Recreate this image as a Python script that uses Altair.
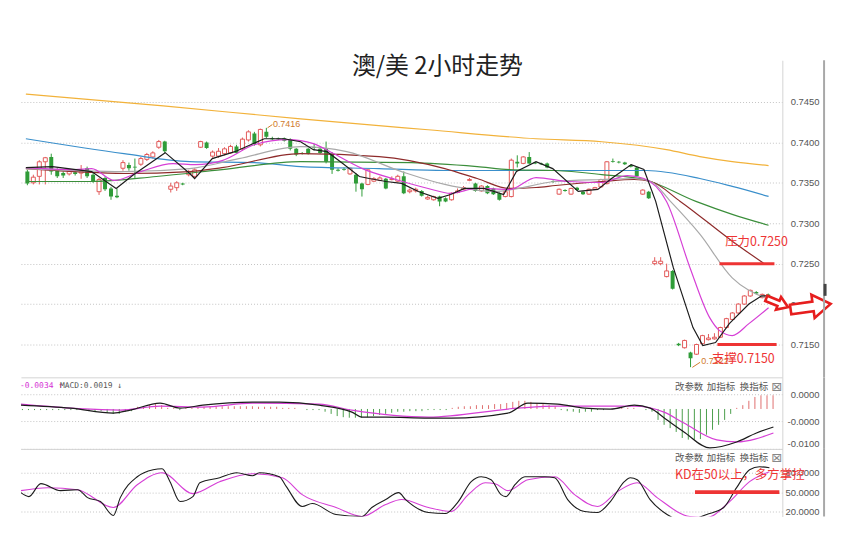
import altair as alt
import pandas as pd

# ------------------------------------------------------------------ data
bar_index = list(range(125))
opens = [
    0.7364, 0.7350, 0.7358, 0.7376, 0.7382, 0.7366, 0.7362, 0.7361, 0.7363, 0.7362,
    0.7368, 0.7360, 0.7339, 0.7356, 0.7343, 0.7334, 0.7368, 0.7372, 0.7370, 0.7373,
    0.7379, 0.7382, 0.7394, 0.7401, 0.7342, 0.7344, 0.7349, 0.7360, 0.7358, 0.7394,
    0.7400, 0.7383, 0.7383, 0.7386, 0.7387, 0.7395, 0.7392, 0.7403, 0.7411, 0.7397,
    0.7413, 0.7405, 0.7405, 0.7405, 0.7404, 0.7392, 0.7387, 0.7392, 0.7394, 0.7392,
    0.7392, 0.7386, 0.7366, 0.7367, 0.7361, 0.7360, 0.7349, 0.7348, 0.7352, 0.7353,
    0.7355, 0.7354, 0.7352, 0.7358, 0.7339, 0.7340, 0.7340, 0.7330, 0.7329, 0.7333,
    0.7331, 0.7329, 0.7338, 0.7342, 0.7353, 0.7349, 0.7340, 0.7346, 0.7343, 0.7337,
    0.7333, 0.7333, 0.7376, 0.7374, 0.7382, 0.7375, 0.7374, 0.7374, 0.7352, 0.7336,
    0.7341, 0.7336, 0.7344, 0.7339, 0.7336, 0.7342, 0.7345, 0.7349, 0.7377, 0.7376,
    0.7375, 0.7372, 0.7369, 0.7336, 0.7339, 0.7250, 0.7250, 0.7234, 0.7241, 0.7151,
    0.7146, 0.7140, 0.7138, 0.7151, 0.7156, 0.7157, 0.7159, 0.7171, 0.7181, 0.7189,
    0.7200, 0.7210, 0.7215, 0.7208, 0.7212]
highs = [
    0.7366, 0.7360, 0.7378, 0.7382, 0.7386, 0.7368, 0.7364, 0.7366, 0.7365, 0.7372,
    0.7370, 0.7362, 0.7356, 0.7358, 0.7345, 0.7343, 0.7378, 0.7375, 0.7380, 0.7382,
    0.7387, 0.7389, 0.7403, 0.7402, 0.7350, 0.7352, 0.7350, 0.7366, 0.7368, 0.7402,
    0.7401, 0.7390, 0.7393, 0.7394, 0.7397, 0.7397, 0.7406, 0.7415, 0.7413, 0.7417,
    0.7418, 0.7407, 0.7406, 0.7406, 0.7405, 0.7393, 0.7388, 0.7393, 0.7398, 0.7393,
    0.7401, 0.7388, 0.7368, 0.7369, 0.7369, 0.7362, 0.7350, 0.7367, 0.7357, 0.7358,
    0.7356, 0.7358, 0.7360, 0.7364, 0.7343, 0.7344, 0.7341, 0.7334, 0.7334, 0.7334,
    0.7332, 0.7338, 0.7343, 0.7346, 0.7356, 0.7350, 0.7347, 0.7347, 0.7344, 0.7338,
    0.7340, 0.7380, 0.7384, 0.7383, 0.7388, 0.7376, 0.7375, 0.7375, 0.7353, 0.7343,
    0.7342, 0.7344, 0.7345, 0.7340, 0.7343, 0.7345, 0.7355, 0.7377, 0.7380, 0.7377,
    0.7376, 0.7373, 0.7370, 0.7342, 0.7340, 0.7258, 0.7258, 0.7250, 0.7242, 0.7152,
    0.7156, 0.7141, 0.7151, 0.7162, 0.7163, 0.7164, 0.7172, 0.7183, 0.7190, 0.7201,
    0.7211, 0.7218, 0.7216, 0.7213, 0.7213]
lows = [
    0.7347, 0.7348, 0.7348, 0.7348, 0.7360, 0.7356, 0.7356, 0.7359, 0.7359, 0.7355,
    0.7356, 0.7350, 0.7335, 0.7340, 0.7329, 0.7331, 0.7365, 0.7365, 0.7356, 0.7371,
    0.7377, 0.7380, 0.7392, 0.7387, 0.7338, 0.7340, 0.7347, 0.7358, 0.7356, 0.7393,
    0.7392, 0.7381, 0.7381, 0.7384, 0.7386, 0.7386, 0.7390, 0.7401, 0.7396, 0.7395,
    0.7405, 0.7403, 0.7403, 0.7401, 0.7390, 0.7383, 0.7385, 0.7385, 0.7390, 0.7386,
    0.7374, 0.7361, 0.7364, 0.7365, 0.7360, 0.7339, 0.7333, 0.7347, 0.7351, 0.7352,
    0.7342, 0.7353, 0.7351, 0.7336, 0.7337, 0.7338, 0.7333, 0.7329, 0.7328, 0.7321,
    0.7326, 0.7328, 0.7337, 0.7341, 0.7352, 0.7339, 0.7339, 0.7336, 0.7335, 0.7328,
    0.7332, 0.7332, 0.7369, 0.7373, 0.7373, 0.7373, 0.7372, 0.7368, 0.7350, 0.7335,
    0.7339, 0.7335, 0.7340, 0.7335, 0.7335, 0.7341, 0.7344, 0.7348, 0.7375, 0.7374,
    0.7372, 0.7369, 0.7357, 0.7335, 0.7330, 0.7248, 0.7248, 0.7233, 0.7218, 0.7148,
    0.7145, 0.7122, 0.7137, 0.7150, 0.7155, 0.7156, 0.7158, 0.7170, 0.7180, 0.7188,
    0.7199, 0.7209, 0.7212, 0.7207, 0.7207]
closes = [
    0.7349, 0.7357, 0.7376, 0.7381, 0.7364, 0.7358, 0.7359, 0.7364, 0.7361, 0.7364,
    0.7358, 0.7352, 0.7354, 0.7342, 0.7333, 0.7332, 0.7375, 0.7368, 0.7369, 0.7380,
    0.7385, 0.7387, 0.7401, 0.7389, 0.7346, 0.7350, 0.7348, 0.7364, 0.7366, 0.7401,
    0.7393, 0.7388, 0.7389, 0.7392, 0.7395, 0.7387, 0.7404, 0.7413, 0.7398, 0.7416,
    0.7407, 0.7404, 0.7404, 0.7402, 0.7392, 0.7385, 0.7386, 0.7386, 0.7393, 0.7387,
    0.7376, 0.7366, 0.7365, 0.7366, 0.7368, 0.7349, 0.7342, 0.7366, 0.7355, 0.7356,
    0.7343, 0.7355, 0.7358, 0.7337, 0.7341, 0.7342, 0.7334, 0.7332, 0.7333, 0.7327,
    0.7327, 0.7337, 0.7340, 0.7344, 0.7354, 0.7340, 0.7346, 0.7337, 0.7336, 0.7329,
    0.7339, 0.7378, 0.7374, 0.7382, 0.7374, 0.7374, 0.7373, 0.7369, 0.7351, 0.7342,
    0.7340, 0.7343, 0.7341, 0.7336, 0.7342, 0.7344, 0.7354, 0.7376, 0.7376, 0.7375,
    0.7373, 0.7370, 0.7358, 0.7341, 0.7331, 0.7253, 0.7253, 0.7241, 0.7219, 0.7149,
    0.7155, 0.7133, 0.7150, 0.7161, 0.7158, 0.7159, 0.7171, 0.7182, 0.7189, 0.7200,
    0.7210, 0.7217, 0.7213, 0.7212, 0.7208]

# moving averages: (bar index, price)
ma5_i = [-0.25, 4.19, 10.76, 14.86, 17.82, 23.07, 27.18, 28.0, 30.95, 34.73, 39.66, 42.94,
         45.73, 47.87, 50.16, 52.79, 55.58, 57.22, 60.02, 62.64, 65.44, 68.72, 70.85, 73.15,
         76.44, 79.72, 81.86, 85.14, 87.93, 92.2, 95.48, 97.78, 101.07, 103.2, 105.17, 108.13,
         111.41, 113.05, 115.19, 117.49, 120.77, 122.91, 124.06]
ma5_v = [0.73688, 0.73701, 0.73639, 0.7343, 0.73602, 0.73873, 0.73615, 0.73553, 0.73799,
         0.73885, 0.74045, 0.74045, 0.74008, 0.7391, 0.73885, 0.73738, 0.73578, 0.73553,
         0.73516, 0.73492, 0.73393, 0.73307, 0.73356, 0.7343, 0.7343, 0.73356, 0.73639,
         0.73762, 0.73676, 0.73393, 0.73418, 0.73553, 0.73725, 0.73664, 0.7327, 0.72447,
         0.71709, 0.71488, 0.71524, 0.71758, 0.7200, 0.72102, 0.72102]
ma10_i = [-0.25, 7.96, 10.76, 14.53, 18.97, 24.38, 28.16, 32.59, 38.01, 43.6, 47.87, 50.66,
          56.08, 61.66, 67.08, 70.85, 75.29, 80.71, 85.14, 90.56, 96.14, 100.41, 103.2,
          106.98, 110.92, 114.2, 115.85, 117.98, 120.77, 124.06]
ma10_v = [0.73688, 0.73664, 0.73676, 0.73529, 0.73639, 0.73738, 0.73725, 0.73775, 0.73971,
          0.74033, 0.73984, 0.73885, 0.73676, 0.73541, 0.7343, 0.73369, 0.7343, 0.73418,
          0.73565, 0.73516, 0.73504, 0.7359, 0.73553, 0.7327, 0.72447, 0.71832, 0.71672,
          0.71611, 0.71758, 0.71955]
ma20_i = [-0.25, 16.17, 27.18, 35.39, 45.73, 53.45, 62.64, 69.87, 78.08, 88.42, 96.14,
          101.56, 104.35, 107.64, 112.56, 117.98, 123.4]
ma20_v = [0.73676, 0.73639, 0.73676, 0.73799, 0.73947, 0.73885, 0.73639, 0.7348, 0.73393,
          0.73516, 0.73541, 0.73553, 0.73516, 0.7327, 0.72865, 0.72324, 0.72078]
ma30_i = [-0.25, 7.96, 16.17, 27.18, 32.59, 45.73, 58.87, 69.87, 75.29, 80.71, 85.14, 88.42,
          96.14, 101.56, 104.35, 109.28, 117.98, 123.4]
ma30_v = [0.73676, 0.73639, 0.73615, 0.73639, 0.73688, 0.73861, 0.73824, 0.73676, 0.73553,
          0.7343, 0.73442, 0.73467, 0.73516, 0.73541, 0.73516, 0.7327, 0.72778, 0.72496]
ma60_i = [-0.25, 10.76, 21.59, 32.59, 45.73, 64.29, 75.29, 80.71, 88.42, 96.14, 103.2,
          111.9, 117.98, 124.06]
ma60_v = [0.73516, 0.73516, 0.73578, 0.73664, 0.73762, 0.7375, 0.73701, 0.73664, 0.73652,
          0.73602, 0.73541, 0.7327, 0.7311, 0.72975]
ma120_i = [-0.25, 16.17, 27.18, 38.01, 45.73, 58.87, 69.87, 80.71, 103.69, 112.56, 117.98, 124.06]
ma120_v = [0.74045, 0.73861, 0.73762, 0.7375, 0.73701, 0.73676, 0.73652, 0.73652, 0.73652,
           0.73553, 0.73455, 0.73332]
ma250_i = [-0.25, 22.74, 45.73, 67.08, 85.14, 96.14, 106.98, 112.56, 117.98, 124.06]
ma250_v = [0.74598, 0.74451, 0.74291, 0.74156, 0.74045, 0.74008, 0.7391, 0.73824, 0.73762, 0.73713]

# MACD panel
macd_base = -0.0027
macd_hist = (
    [-0.0002] * 12 + [-0.0004, -0.0004]
    + [-0.0007, -0.0009, -0.0009, -0.0005, -0.0004]
    + [0.0004, 0.0005, 0.0007, 0.0009, 0.0007]
    + [0.0002, 0.0002, -0.0002, 0.0002, 0.0002]
    + [0.0004, 0.0004] + [0.0005] * 8 + [0.0004] * 4 + [0.0002]
    + [0.0002, 0.0002, 0.0, -0.0002, -0.0002, -0.0002]
    + [-0.0005, -0.0009, -0.0013, -0.0015, -0.0016, -0.0016, -0.0016]
    + [-0.0015, -0.0013, -0.0011, -0.0009, -0.0007, -0.0005, -0.0005, -0.0004, -0.0004,
       -0.0004, -0.0002, -0.0002, -0.0002, -0.0002]
    + [0.0002, 0.0004, 0.0005, 0.0005, 0.0007, 0.0007, 0.0007, 0.0009]
    + [0.0009, 0.0011, 0.0013, 0.0015, 0.0015, 0.0013, 0.0011, 0.0009, 0.0007, 0.0005]
    + [-0.0002, -0.0004, -0.0005, -0.0007, -0.0005, -0.0005]
    + [-0.0002, -0.0002, 0.0, 0.0002, 0.0002, 0.0002, 0.0002, 0.0, -0.0002, -0.0005]
    + [-0.0020, -0.0029, -0.0035, -0.0042, -0.0053, -0.0056, -0.0056, -0.0055, -0.0047,
       -0.0038, -0.0029, -0.0020, -0.0009, 0.0002, 0.0007, 0.0015, 0.0022, 0.0025,
       0.0025, 0.0025]
)
dif_i = [-0.25, 7.96, 15.02, 17.82, 22.74, 26.03, 29.8, 38.01, 42.45, 49.01, 54.43, 56.08,
         60.02, 67.08, 70.85, 80.21, 83.5, 88.42, 92.86, 97.13, 101.07, 103.69, 106.49,
         109.28, 113.55, 117.98, 121.26, 124.06]
dif_v = [-0.0020, -0.00255, -0.00345, -0.00291, -0.00164, -0.00255, -0.0020, -0.00145,
         -0.00145, -0.0020, -0.00327, -0.00418, -0.00418, -0.00436, -0.00436, -0.00345,
         -0.00164, -0.00182, -0.00255, -0.00273, -0.0020, -0.00255, -0.00473, -0.00691,
         -0.00982, -0.00873, -0.00709, -0.0060]
dea_i = [-0.25, 16.17, 22.74, 29.8, 38.01, 49.01, 54.43, 67.08, 81.86, 88.42, 101.07, 105.99,
         109.28, 114.7, 117.98, 124.06]
dea_v = [-0.00182, -0.00291, -0.00218, -0.00236, -0.00164, -0.00182, -0.00291, -0.00418,
         -0.00255, -0.00218, -0.00218, -0.00327, -0.00527, -0.00836, -0.00873, -0.00709]

# KD panel
k_i = [-0.25, 1.07, 3.04, 6.32, 9.11, 10.76, 12.89, 15.02, 16.17, 18.97, 21.59, 23.07, 24.38,
       26.03, 28.16, 29.31, 32.59, 35.39, 38.01, 39.16, 42.45, 43.6, 46.22, 47.87, 51.81,
       56.08, 57.72, 60.02, 62.15, 63.3, 67.08, 69.87, 72.0, 74.14, 75.78, 77.42, 79.06,
       79.89, 81.36, 83.0, 86.29, 87.93, 90.07, 92.86, 95.0, 97.13, 99.43, 100.41, 101.56,
       103.69, 106.49, 109.28, 113.05, 115.85, 117.98, 120.12, 121.76, 123.4]
k_v = [49.2, 43.1, 63.1, 52.3, 53.8, 41.5, 35.4, 13.8, 41.5, 73.8, 84.6, 86.2, 66.2, 35.4,
       43.1, 64.6, 72.3, 80.0, 75.4, 80.0, 73.8, 58.5, 27.7, 32.3, 15.4, 12.3, 26.2, 38.5,
       49.2, 38.5, 18.5, 16.9, 35.4, 66.2, 73.8, 69.2, 46.2, 43.1, 61.5, 73.8, 73.8, 72.3,
       38.5, 20.0, 18.5, 35.4, 66.2, 72.3, 69.2, 38.5, 15.4, 5.0, 15.4, 26.2, 56.9, 84.6,
       89.2, 87.7]
d_i = [-0.25, 4.19, 9.11, 15.02, 18.97, 23.07, 28.16, 32.59, 38.01, 42.94, 46.22, 51.81,
       56.08, 60.02, 62.64, 67.08, 70.85, 73.65, 76.44, 78.08, 80.21, 83.5, 87.93, 91.22,
       95.0, 98.28, 101.56, 104.84, 110.26, 113.05, 116.83, 120.12, 123.4]
d_v = [52.3, 56.9, 53.8, 26.2, 61.5, 80.0, 47.7, 66.2, 78.5, 72.3, 46.2, 26.2, 12.3, 30.8,
       38.5, 26.2, 20.0, 46.2, 64.6, 63.1, 52.3, 69.2, 73.8, 46.2, 27.7, 50.8, 64.6, 41.5,
       12.3, 10.8, 35.4, 66.2, 81.5]

main_ticks = [0.7150, 0.7200, 0.7250, 0.7300, 0.7350, 0.7400, 0.7450]
macd_ticks = [0.0, -0.005, -0.010]
macd_tick_labels = ["0.0000", "-0.0000", "-0.0100"]
kd_ticks = [20, 50, 80]

title_text = "澳/美 2小时走势"
resist_level, resist_text = 0.7250, "压力0.7250"
support_level, support_text = 0.7150, "支撑0.7150"
kd_level, kd_text = 50, "KD在50以上，多方掌控"
high_text, low_text = "0.7416", "0.7122"
menu_texts = ["改参数", "加指标", "换指标"]
macd_head_a, macd_head_b = "-0.0034 ↑", "MACD:0.0019 ↓"

# ------------------------------------------------------------------ styling
RED, GREEN = "#e25a5a", "#2f9c38"
ANN = "#ee3434"
W, H_MAIN, H_MACD, H_KD = 766, 319, 72, 68
ARROW = "M-1,-0.24 L0.12,-0.24 L0.12,-0.58 L1,0 L0.12,0.58 L0.12,0.24 L-1,0.24 Z"
xscale = alt.Scale(domain=[-0.246, 125.53], nice=False, zero=False)
top_axis = alt.Axis(orient="top", labels=False, ticks=False, grid=False, title=None,
                    domainColor="#d4d4d4")


def X(field, axis):
    return alt.X(f"{field}:Q", scale=xscale, axis=axis)


def yaxis(values, fmt=None, expr=None, flush=False):
    kw = dict(orient="right", values=values, title=None, ticks=False, tickSize=0,
              domainColor="#d4d4d4", gridColor="#c4c4c4", gridDash=[1, 2],
              labelColor="#555", labelFont="Liberation Sans", labelFontSize=9.5,
              labelAlign="right", labelPadding=37, labelFlush=flush)
    if fmt:
        kw["format"] = fmt
    if expr:
        kw["labelExpr"] = expr
    return alt.Axis(**kw)


ys_main = alt.Scale(domain=[0.71094, 0.75016], nice=False, zero=False)
ax_main = yaxis(main_ticks, fmt=".4f")
ys_macd = alt.Scale(domain=[-0.0100, 0.00309], nice=False, zero=False)
macd_expr = " : ".join(
    f"datum.value == {v} ? '{t}'" for v, t in zip(macd_ticks[:-1], macd_tick_labels[:-1])
) + f" : '{macd_tick_labels[-1]}'"
ax_macd = yaxis(macd_ticks, expr=macd_expr, flush=True)
ys_kd = alt.Scale(domain=[12.31, 116.92], nice=False, zero=False)
ax_kd = yaxis(kd_ticks, fmt=".4f")


def Y(field, scale, axis):
    return alt.Y(f"{field}:Q", scale=scale, axis=axis)


def border(h):
    return alt.Chart(pd.DataFrame({"a": [0]})).mark_rule(color="#a8a8a8", strokeWidth=2).encode(
        x=alt.value(808), y=alt.value(0), y2=alt.value(h))


# ------------------------------------------------------------------ main panel
candles = pd.DataFrame({"i": bar_index, "open": opens, "high": highs,
                        "low": lows, "close": closes})
up = alt.Chart(candles).transform_filter("datum.close >= datum.open")
dn = alt.Chart(candles).transform_filter("datum.close < datum.open")

layers = [
    dn.mark_rule(color=GREEN, strokeWidth=1, clip=True).encode(
        x=X("i", None), y=Y("low", ys_main, ax_main), y2="high:Q"),
    dn.mark_bar(size=4, color=GREEN, clip=True).encode(
        x=X("i", None), y=Y("open", ys_main, ax_main), y2="close:Q"),
    up.mark_rule(color=RED, strokeWidth=1, clip=True).encode(
        x=X("i", None), y=Y("low", ys_main, ax_main), y2="high:Q"),
    up.mark_bar(size=4, fill="white", stroke=RED, strokeWidth=1, clip=True).encode(
        x=X("i", None), y=Y("open", ys_main, ax_main), y2="close:Q"),
]
for ii, vv, col, interp in [
    (ma250_i, ma250_v, "#f2b23a", "monotone"),
    (ma120_i, ma120_v, "#3a8fcb", "monotone"),
    (ma60_i, ma60_v, "#3b8e3b", "monotone"),
    (ma30_i, ma30_v, "#8e2b2b", "monotone"),
    (ma20_i, ma20_v, "#a9a9a9", "monotone"),
    (ma10_i, ma10_v, "#d63fd6", "monotone"),
    (ma5_i, ma5_v, "#1c1c1c", "linear"),
]:
    layers.append(alt.Chart(pd.DataFrame({"i": ii, "v": vv})).mark_line(
        color=col, strokeWidth=1.2, clip=True, interpolate=interp).encode(
        x=X("i", None), y=Y("v", ys_main, ax_main)))

# resistance / support lines and labels
lvl = pd.DataFrame({"i0": [115.85, 115.5], "i1": [125.04, 125.4],
                    "v": [resist_level, support_level]})
layers.append(alt.Chart(lvl).mark_rule(color=ANN, strokeWidth=3).encode(
    x=X("i0", None), x2="i1:Q", y=Y("v", ys_main, ax_main)))
# extreme value labels (drawn below the red text)
ext = pd.DataFrame({"i": [41.1, 112.8], "v": [0.74229, 0.71290], "t": [high_text, low_text]})
layers.append(alt.Chart(ext).mark_text(align="left", baseline="middle", fontSize=9,
                                       font="Liberation Sans", color="#d07a2c").encode(
    x=X("i", None), y=Y("v", ys_main, ax_main), text="t:N"))
lead = pd.DataFrame({"i0": [40.2, 111.3], "i1": [41.0, 112.6],
                     "v0": [0.74180, 0.71217], "v1": [0.74220, 0.71280]})
layers.append(alt.Chart(lead).mark_rule(color="#d07a2c", strokeWidth=1).encode(
    x=X("i0", None), x2="i1:Q", y=Y("v0", ys_main, ax_main), y2="v1:Q"))
lvl_txt = pd.DataFrame({"i": [116.8, 114.6], "v": [0.72766, 0.71315],
                        "t": [resist_text, support_text]})
layers.append(alt.Chart(lvl_txt).mark_text(align="left", baseline="middle", fontSize=12.5,
                                           font="Noto Sans CJK SC", color=ANN).encode(
    x=X("i", None), y=Y("v", ys_main, ax_main), text="t:N"))
# outlined arrows pointing right
arr = pd.DataFrame({"i": [125.5, 131.1], "v": [0.72016, 0.71967],
                    "s": [560, 1650], "a": [22, 352]})
layers.append(alt.Chart(arr).mark_point(shape=ARROW, filled=True, fill="white", stroke="#e61e1e",
                                        strokeWidth=2.6, opacity=1).encode(
    x=X("i", None), y=Y("v", ys_main, ax_main),
    size=alt.Size("s:Q", scale=None, legend=None),
    angle=alt.Angle("a:Q", scale=None)))
layers.append(border(H_MAIN))
layers.append(alt.Chart(pd.DataFrame({"a": [0]})).mark_rule(color="#444", strokeWidth=3).encode(
    x=alt.value(809), y=alt.value(225), y2=alt.value(237)))

main = alt.layer(*layers).properties(width=W, height=H_MAIN)

# ------------------------------------------------------------------ MACD panel
hist = pd.DataFrame({"i": bar_index, "h": macd_hist})
hist["base"] = macd_base
hist["end"] = hist["base"] + hist["h"]
m_layers = [
    alt.Chart(hist).transform_filter("datum.h < 0").mark_rule(color="#4c9e4c", strokeWidth=1).encode(
        x=X("i", top_axis), y=Y("base", ys_macd, ax_macd), y2="end:Q"),
    alt.Chart(hist).transform_filter("datum.h >= 0").mark_rule(color="#e07070", strokeWidth=1).encode(
        x=X("i", top_axis), y=Y("base", ys_macd, ax_macd), y2="end:Q"),
    alt.Chart(pd.DataFrame({"i": dea_i, "v": dea_v})).mark_line(
        color="#d63fd6", strokeWidth=1.2, interpolate="monotone", clip=True).encode(
        x=X("i", top_axis), y=Y("v", ys_macd, ax_macd)),
    alt.Chart(pd.DataFrame({"i": dif_i, "v": dif_v})).mark_line(
        color="#1c1c1c", strokeWidth=1.2, interpolate="monotone", clip=True).encode(
        x=X("i", top_axis), y=Y("v", ys_macd, ax_macd)),
]
menu_i = [107.8, 113.05, 118.5]
m_layers.append(alt.Chart(pd.DataFrame({"i": menu_i, "v": [0.00136] * 3, "t": menu_texts})).mark_text(
    align="left", baseline="middle", fontSize=9.5, font="Noto Sans CJK SC", color="#555").encode(
    x=X("i", top_axis), y=Y("v", ys_macd, ax_macd), text="t:N"))
m_layers.append(alt.Chart(pd.DataFrame({"i": [124.6], "v": [0.00136], "t": ["⊠"]})).mark_text(
    align="center", baseline="middle", fontSize=13, font="DejaVu Sans", color="#888").encode(
    x=X("i", top_axis), y=Y("v", ys_macd, ax_macd), text="t:N"))
m_layers.append(alt.Chart(pd.DataFrame({"i": [-0.4], "v": [0.00155], "t": [macd_head_a]})).mark_text(
    align="left", baseline="middle", fontSize=8, font="DejaVu Sans Mono", color="#d42cd4").encode(
    x=X("i", top_axis), y=Y("v", ys_macd, ax_macd), text="t:N"))
m_layers.append(alt.Chart(pd.DataFrame({"i": [6.2], "v": [0.00155], "t": [macd_head_b]})).mark_text(
    align="left", baseline="middle", fontSize=8, font="DejaVu Sans Mono", color="#555").encode(
    x=X("i", top_axis), y=Y("v", ys_macd, ax_macd), text="t:N"))
m_layers.append(border(H_MACD))
macd = alt.layer(*m_layers).properties(width=W, height=H_MACD)

# ------------------------------------------------------------------ KD panel
k_layers = [
    alt.Chart(pd.DataFrame({"i": d_i, "v": d_v})).mark_line(
        color="#d63fd6", strokeWidth=1.1, interpolate="monotone", clip=True).encode(
        x=X("i", top_axis), y=Y("v", ys_kd, ax_kd)),
    alt.Chart(pd.DataFrame({"i": k_i, "v": k_v})).mark_line(
        color="#1c1c1c", strokeWidth=1.1, interpolate="monotone", clip=True).encode(
        x=X("i", top_axis), y=Y("v", ys_kd, ax_kd)),
    alt.Chart(pd.DataFrame({"i": menu_i, "v": [102.3] * 3, "t": menu_texts})).mark_text(
        align="left", baseline="middle", fontSize=9.5, font="Noto Sans CJK SC", color="#555").encode(
        x=X("i", top_axis), y=Y("v", ys_kd, ax_kd), text="t:N"),
    alt.Chart(pd.DataFrame({"i": [124.6], "v": [102.3], "t": ["⊠"]})).mark_text(
        align="center", baseline="middle", fontSize=13, font="DejaVu Sans", color="#888").encode(
        x=X("i", top_axis), y=Y("v", ys_kd, ax_kd), text="t:N"),
    alt.Chart(pd.DataFrame({"i0": [111.1], "i1": [125.04], "v": [kd_level]})).mark_rule(
        color=ANN, strokeWidth=4).encode(x=X("i0", top_axis), x2="i1:Q", y=Y("v", ys_kd, ax_kd)),
    alt.Chart(pd.DataFrame({"i": [107.8], "v": [77.0], "t": [kd_text]})).mark_text(
        align="left", baseline="middle", fontSize=12.5, font="Noto Sans CJK SC", color=ANN).encode(
        x=X("i", top_axis), y=Y("v", ys_kd, ax_kd), text="t:N"),
    border(H_KD),
]
kd = alt.layer(*k_layers).properties(width=W, height=H_KD)

chart = alt.vconcat(main, macd, kd, spacing=0, bounds="flush").properties(
    title=alt.TitleParams(title_text, fontSize=24, font="Noto Sans CJK SC", fontWeight="normal",
                          color="#222", anchor="middle", frame="group", offset=-20, dx=36),
    padding={"left": 12, "top": 46, "right": 0, "bottom": 5},
).configure_view(stroke=None)

chart.save("out.html", embed_options={"renderer": "svg", "actions": False})
